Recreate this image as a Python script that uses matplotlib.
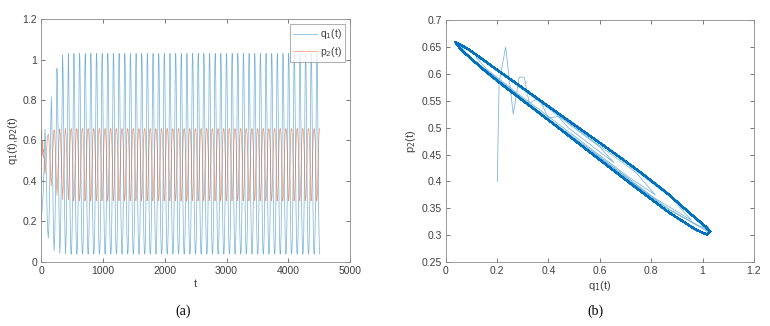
import numpy as np
import matplotlib
matplotlib.use("Agg")
import matplotlib.pyplot as plt
from matplotlib.ticker import FuncFormatter

plt.rcParams["font.family"] = ["Liberation Sans", "DejaVu Sans"]

# transient part (t, q1, p2)
t_start = [0, 3, 8, 13, 18, 23, 28, 33, 38, 43, 48, 53, 60,
           69, 78, 87, 96, 105, 114,
           122, 130, 138, 146, 154, 162,
           170, 178, 186, 194, 202, 208,
           216, 224, 232, 240, 248, 254,
           262, 270, 278, 286, 294, 300,
           308, 316, 324, 332, 340, 346,
           354, 362, 370, 378, 386, 392,
           400, 408, 416, 424, 432]
q1_start = [0.201, 0.208, 0.2335, 0.263, 0.286, 0.306, 0.325, 0.364, 0.399, 0.438, 0.477, 0.57, 0.655,
            0.60, 0.48, 0.34, 0.22, 0.15, 0.116,
            0.16, 0.26, 0.40, 0.56, 0.71, 0.816,
            0.74, 0.57, 0.38, 0.22, 0.10, 0.054,
            0.10, 0.22, 0.40, 0.60, 0.81, 0.956,
            0.88, 0.68, 0.45, 0.25, 0.10, 0.041,
            0.09, 0.21, 0.40, 0.62, 0.85, 1.022,
            0.93, 0.72, 0.47, 0.25, 0.10, 0.038,
            0.09, 0.22, 0.42, 0.65, 0.88]
p2_start = [0.400, 0.585, 0.650, 0.525, 0.594, 0.594, 0.546, 0.555, 0.518, 0.521, 0.500, 0.466, 0.435,
            0.464, 0.507, 0.557, 0.599, 0.623, 0.632,
            0.609, 0.571, 0.521, 0.463, 0.409, 0.375,
            0.417, 0.477, 0.545, 0.600, 0.641, 0.652,
            0.629, 0.584, 0.517, 0.446, 0.370, 0.328,
            0.369, 0.442, 0.523, 0.592, 0.643, 0.658,
            0.634, 0.586, 0.516, 0.437, 0.354, 0.306,
            0.352, 0.430, 0.517, 0.592, 0.643, 0.659,
            0.633, 0.582, 0.508, 0.424, 0.344]

# one period of the settled cycle, starting at the q1 peak
q1_cycle = [1.030, 1.012, 0.955, 0.860, 0.750, 0.620, 0.490, 0.370, 0.270, 0.190, 0.130,
            0.085, 0.055, 0.040, 0.038, 0.045, 0.065, 0.100, 0.150, 0.220, 0.310,
            0.420, 0.560, 0.720, 0.870, 0.975, 1.018]
p2_cycle = [0.307, 0.316, 0.339, 0.379, 0.420, 0.465, 0.509, 0.550, 0.584, 0.611, 0.632,
            0.647, 0.655, 0.658, 0.659, 0.654, 0.643, 0.628, 0.607, 0.580, 0.547,
            0.507, 0.455, 0.396, 0.342, 0.310, 0.301]
t_cycle0 = 438
period = 91.5
n_cycles = 44

n_tail = 15  # ends half a period later, near a q1 trough
q1_lim = q1_cycle * n_cycles + q1_cycle[:n_tail]
p2_lim = p2_cycle * n_cycles + p2_cycle[:n_tail]
t_lim = t_cycle0 + np.arange(len(q1_lim)) * period / len(q1_cycle)

t = np.concatenate([t_start, t_lim])
q1 = np.concatenate([q1_start, q1_lim])
p2 = np.concatenate([p2_start, p2_lim])

blue = "#0072BD"
orange = "#D95319"
fmt = FuncFormatter(lambda v, pos: "%g" % round(v, 4))


def style(ax):
    ax.tick_params(direction="in", length=3, width=0.5, labelsize=7.5,
                   colors="#404040", top=True, right=True, pad=3)
    for s in ax.spines.values():
        s.set_color("#8a8a8a")
        s.set_linewidth(0.6)
    ax.xaxis.set_major_formatter(fmt)
    ax.yaxis.set_major_formatter(fmt)


fig = plt.figure(figsize=(7.7, 3.26), dpi=100)
ax1 = fig.add_axes([0.0536, 0.197, 0.401, 0.7445])
ax2 = fig.add_axes([0.5788, 0.196, 0.4004, 0.742])

ax1.plot(t, q1, color=blue, lw=0.5, alpha=0.55, label="q$_1$(t)")
ax1.plot(t, p2, color=orange, lw=0.5, alpha=0.6, label="p$_2$(t)")
ax1.set_xlim(0, 5000)
ax1.set_ylim(0, 1.2)
ax1.set_xticks(np.arange(0, 5001, 1000))
ax1.set_yticks(np.arange(0, 1.21, 0.2))
ax1.set_xlabel("t", fontsize=8, color="#404040", labelpad=2)
ax1.set_ylabel("q$_1$(t),p$_2$(t)", fontsize=8, color="#404040", labelpad=2)
leg = ax1.legend(loc="upper right", fontsize=7.5, frameon=True, fancybox=False,
                 borderpad=0.3, handlelength=2.3, handletextpad=0.3,
                 labelspacing=0.3, borderaxespad=0.5)
leg.get_frame().set_edgecolor("#8a8a8a")
leg.get_frame().set_linewidth(0.6)
for txt in leg.get_texts():
    txt.set_color("#404040")
style(ax1)

n0 = len(t_start)
ax2.plot(q1[:n0 + 1], p2[:n0 + 1], color=blue, lw=0.6, alpha=0.5)
ax2.plot(q1[n0:], p2[n0:], color=blue, lw=1.2)
ax2.set_xlim(0, 1.2)
ax2.set_ylim(0.25, 0.7)
ax2.set_xticks(np.arange(0, 1.21, 0.2))
ax2.set_yticks(np.arange(0.25, 0.701, 0.05))
ax2.set_xlabel("q$_1$(t)", fontsize=8, color="#404040", labelpad=2)
ax2.set_ylabel("p$_2$(t)", fontsize=8, color="#404040", labelpad=2)
style(ax2)

fig.text(0.238, 0.035, "(a)", fontsize=10, family="Liberation Serif", ha="center")
fig.text(0.773, 0.035, "(b)", fontsize=10, family="Liberation Serif", ha="center")

fig.savefig("out.png", dpi=100)
